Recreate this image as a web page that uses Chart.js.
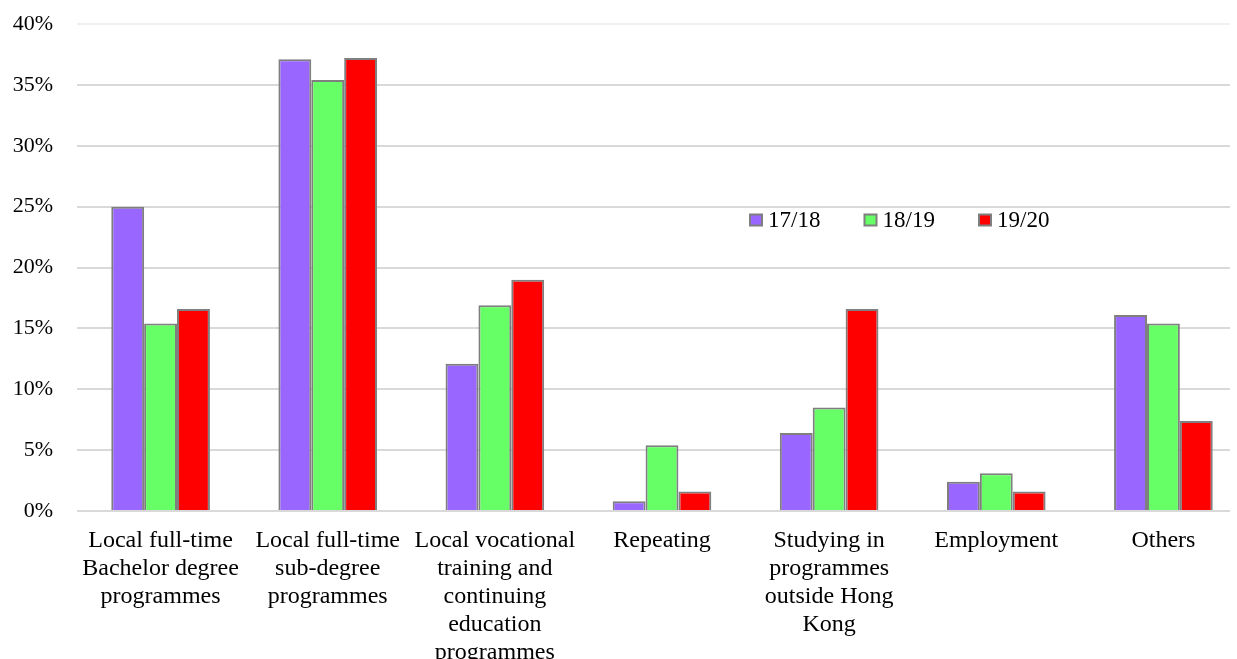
<!DOCTYPE html>
<html>
<head>
<meta charset="utf-8">
<script src="https://cdn.jsdelivr.net/npm/chart.js@4/dist/chart.umd.min.js"></script>
<style>
html,body{margin:0;padding:0;background:#fff;overflow:hidden;}
#wrap{width:1237px;height:659px;position:relative;overflow:hidden;}
</style>
</head>
<body>
<div id="wrap"><canvas id="c" width="1254" height="659"></canvas></div>
<script>
const categories = [
  ["Local full-time", "Bachelor degree", "programmes"],
  ["Local full-time", "sub-degree", "programmes"],
  ["Local vocational", "training and", "continuing", "education", "programmes"],
  ["Repeating"],
  ["Studying in", "programmes", "outside Hong", "Kong"],
  ["Employment"],
  ["Others"]
];
const seriesNames = ["17/18", "18/19", "19/20"];
const values1718 = [25.0, 37.1, 12.1, 0.8, 6.4, 2.4, 16.1];
const values1819 = [15.4, 35.4, 16.9, 5.4, 8.5, 3.1, 15.4];
const values1920 = [16.6, 37.2, 19.0, 1.6, 16.6, 1.6, 7.4];
const seriesColors = ["#9966FF", "#66FF66", "#FF0000"];
const yTicks = [0, 5, 10, 15, 20, 25, 30, 35, 40];

const FONT = '"Liberation Serif", "Times New Roman", serif';
const GRID_END_X = 1230;

const gridTrimPlugin = {
  id: 'gridTrim',
  beforeDatasetsDraw(chart) {
    const ctx = chart.ctx;
    ctx.save();
    ctx.fillStyle = '#fff';
    ctx.fillRect(GRID_END_X, 0, chart.width - GRID_END_X, chart.chartArea.bottom + 3);
    ctx.restore();
  }
};

const legendPlugin = {
  id: 'innerLegend',
  afterDraw(chart) {
    const ctx = chart.ctx;
    const ca = chart.chartArea;
    const startX = ca.left + 673;
    const step = 114.5;
    const cy = 220;
    ctx.save();
    ctx.font = '23px ' + FONT;
    ctx.textBaseline = 'middle';
    ctx.textAlign = 'left';
    chart.data.datasets.forEach((ds, i) => {
      const x = startX + i * step;
      ctx.fillStyle = ds.backgroundColor;
      ctx.fillRect(x, cy - 5.5, 12, 11);
      ctx.strokeStyle = '#7f7f7f';
      ctx.lineWidth = 2;
      ctx.strokeRect(x, cy - 5.5, 12, 11);
      ctx.fillStyle = '#000';
      ctx.fillText(ds.label, x + 18, cy + 1);
    });
    ctx.restore();
  }
};

new Chart(document.getElementById('c'), {
  type: 'bar',
  data: {
    labels: categories,
    datasets: [
      { label: seriesNames[0], data: values1718, backgroundColor: seriesColors[0] },
      { label: seriesNames[1], data: values1819, backgroundColor: seriesColors[1] },
      { label: seriesNames[2], data: values1920, backgroundColor: seriesColors[2] }
    ]
  },
  options: {
    responsive: false,
    animation: false,
    layout: { padding: { top: 24, right: 7, left: 0, bottom: 0 } },
    datasets: {
      bar: {
        categoryPercentage: 0.59,
        barPercentage: 1.0,
        borderColor: '#7f7f7f',
        borderWidth: 2
      }
    },
    plugins: {
      legend: { display: false },
      tooltip: { enabled: false }
    },
    scales: {
      x: {
        grid: { display: false, drawTicks: false },
        border: { display: false },
        ticks: {
          color: '#000',
          font: { family: FONT, size: 24, lineHeight: 1.1667 },
          padding: 16,
          autoSkip: false,
          maxRotation: 0,
          minRotation: 0
        },
        afterFit(scale) { scale.height = 148; scale.paddingTop = 0; scale.paddingBottom = 0; scale.paddingLeft = 0; scale.paddingRight = 0; }
      },
      y: {
        min: 0,
        max: 40,
        afterBuildTicks(scale) { scale.ticks = yTicks.map(v => ({ value: v })); },
        grid: {
          drawTicks: false,
          lineWidth: 2,
          color: (c) => (c.tick && c.tick.value === 40) ? '#f0f0f0' : '#d9d9d9'
        },
        border: { display: false },
        ticks: {
          color: '#000',
          font: { family: FONT, size: 22 },
          padding: 24,
          callback: (v) => v + '%'
        },
        afterFit(scale) { scale.width = 77; scale.paddingTop = 0; scale.paddingBottom = 0; }
      }
    }
  },
  plugins: [gridTrimPlugin, legendPlugin]
});
</script>
</body>
</html>
